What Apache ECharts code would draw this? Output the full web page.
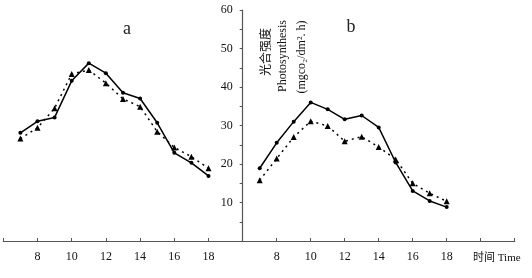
<!DOCTYPE html>
<html>
<head>
<meta charset="utf-8">
<script src="https://cdn.jsdelivr.net/npm/echarts@6/dist/echarts.min.js"></script>
<style>html,body{margin:0;padding:0;background:#fff}#c{width:532px;height:278px}</style>
</head>
<body>
<div id="c"></div>
<script>
var hours = [7, 8, 9, 10, 11, 12, 13, 14, 15, 16, 17, 18];
var aSolid = [28.1, 31.1, 32.1, 41.6, 46.2, 43.6, 38.5, 37.0, 30.7, 22.9, 20.3, 16.9];
var aDashed = [26.6, 29.4, 34.5, 43.4, 44.4, 41.0, 36.9, 34.9, 28.4, 24.3, 21.9, 18.9];
var bSolid = [18.9, 25.5, 31.0, 36.0, 34.2, 31.6, 32.6, 29.5, 20.4, 13.0, 10.4, 8.8];
var bDashed = [15.8, 21.4, 27.0, 31.1, 29.9, 25.9, 27.1, 24.4, 21.2, 15.0, 12.4, 10.3];
var xTickLabels = [8, 10, 12, 14, 16, 18];
var yTickLabels = [10, 20, 30, 40, 50, 60];

function pairs(vals) { return hours.map(function (h, i) { return [h, vals[i]]; }); }

var font = '"Liberation Serif", "Noto Sans CJK SC", serif';
var axisColor = '#555';

function xAxisCfg(gi, max) {
  return {
    type: 'value', gridIndex: gi, min: 6, max: max, interval: 2,
    axisLine: { show: true, lineStyle: { color: axisColor, width: 1.2 } },
    axisTick: { show: true, inside: true, length: 3, lineStyle: { color: axisColor } },
    splitLine: { show: false },
    axisLabel: {
      margin: 10, color: '#111', fontFamily: font, fontSize: 12,
      formatter: function (v) { return xTickLabels.indexOf(v) >= 0 ? String(v) : ''; }
    }
  };
}

var solidStyle = { color: '#000', width: 1.5, type: 'solid' };
var dashStyle = { color: '#000', width: 1.5, type: [2, 4] };

var option = {
  animation: false,
  backgroundColor: '#fff',
  grid: [
    { left: 3.3, width: 239.4, top: 10, height: 231 },
    { left: 242.7, width: 272, top: 10, height: 231 }
  ],
  xAxis: [xAxisCfg(0, 20), xAxisCfg(1, 22)],
  yAxis: [
    { type: 'value', gridIndex: 0, min: 0, max: 60, show: false },
    {
      type: 'value', gridIndex: 1, min: 0, max: 60, interval: 5,
      axisLine: { show: true, lineStyle: { color: axisColor, width: 1.2 } },
      axisTick: { show: true, length: 3, lineStyle: { color: axisColor } },
      splitLine: { show: false },
      axisLabel: {
        margin: 10, color: '#111', fontFamily: font, fontSize: 12,
        formatter: function (v) { return yTickLabels.indexOf(v) >= 0 ? String(v) : ''; }
      }
    }
  ],
  series: [
    { type: 'line', xAxisIndex: 0, yAxisIndex: 0, data: pairs(aSolid), symbol: 'circle', symbolSize: 4,
      lineStyle: solidStyle, itemStyle: { color: '#000' } },
    { type: 'line', xAxisIndex: 0, yAxisIndex: 0, data: pairs(aDashed), symbol: 'triangle', symbolSize: 6,
      lineStyle: dashStyle, itemStyle: { color: '#000' } },
    { type: 'line', xAxisIndex: 1, yAxisIndex: 1, data: pairs(bSolid), symbol: 'circle', symbolSize: 4,
      lineStyle: solidStyle, itemStyle: { color: '#000' } },
    { type: 'line', xAxisIndex: 1, yAxisIndex: 1, data: pairs(bDashed), symbol: 'triangle', symbolSize: 6,
      lineStyle: dashStyle, itemStyle: { color: '#000' } }
  ],
  graphic: [
    { type: 'text', x: 127, y: 29, style: { text: 'a', fontFamily: font, fontSize: 18, fill: '#222', textAlign: 'center', textVerticalAlign: 'middle' } },
    { type: 'text', x: 351, y: 27, style: { text: 'b', fontFamily: font, fontSize: 18, fill: '#222', textAlign: 'center', textVerticalAlign: 'middle' } },
    { type: 'text', x: 267, y: 52, rotation: Math.PI / 2, style: { text: '光合强度', fontFamily: font, fontSize: 12, fill: '#111', textAlign: 'center', textVerticalAlign: 'middle' } },
    { type: 'text', x: 283, y: 56, rotation: Math.PI / 2, style: { text: 'Photosynthesis', fontFamily: font, fontSize: 12, fill: '#111', textAlign: 'center', textVerticalAlign: 'middle' } },
    { type: 'text', x: 302, y: 57, rotation: Math.PI / 2, style: { text: '(mgco₂/dm². h)', fontFamily: font, fontSize: 12, fill: '#111', textAlign: 'center', textVerticalAlign: 'middle' } },
    { type: 'text', x: 473, y: 258, style: { text: '时间 Time', fontFamily: font, fontSize: 11, fill: '#111', textAlign: 'left', textVerticalAlign: 'middle' } }
  ]
};
echarts.init(document.getElementById('c')).setOption(option);
</script>
</body>
</html>
